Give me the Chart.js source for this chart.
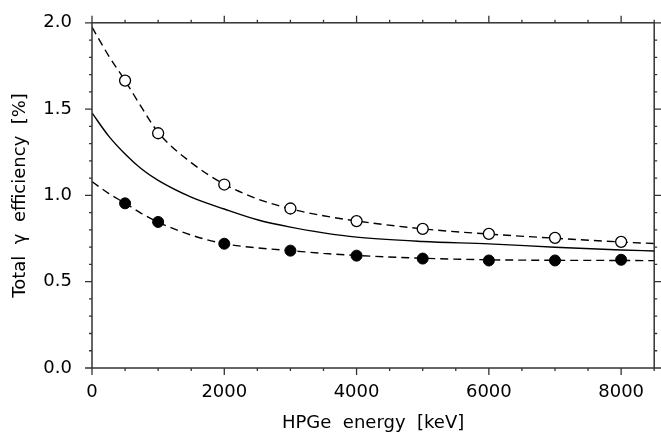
<!DOCTYPE html>
<html>
<head>
<meta charset="utf-8">
<script src="https://cdn.jsdelivr.net/npm/chart.js@4/dist/chart.umd.min.js"></script>
<style>
  html, body { margin: 0; padding: 0; background: #fff; }
  .chart-box { width: 661px; height: 438px; }
</style>
</head>
<body>
<div class="chart-box"><canvas id="chart"></canvas></div>
<script>
// measured points (keV, %)
const energies = [500, 1000, 2000, 3000, 4000, 5000, 6000, 7000, 8000];
const openVals = [1.665, 1.36, 1.063, 0.924, 0.851, 0.806, 0.777, 0.754, 0.731];
const filledVals = [0.954, 0.846, 0.72, 0.68, 0.651, 0.634, 0.623, 0.623, 0.627];

// curves
const curveX = [0, 250, 500, 750, 1000, 1500, 2000, 2500, 3000, 3500, 4000, 5000, 6000, 7000, 8000, 8500];
const upperCurve = [1.975, 1.81, 1.665, 1.51, 1.365, 1.19, 1.065, 0.98, 0.922, 0.882, 0.852, 0.806, 0.776, 0.752, 0.73, 0.721];
const solidCurve = [1.478, 1.345, 1.24, 1.153, 1.087, 0.99, 0.921, 0.859, 0.816, 0.783, 0.758, 0.733, 0.719, 0.70, 0.684, 0.678];
const lowerCurve = [1.08, 1.012, 0.955, 0.895, 0.845, 0.77, 0.72, 0.696, 0.68, 0.664, 0.652, 0.636, 0.627, 0.624, 0.623, 0.622];

const xTicks = [0, 2000, 4000, 6000, 8000];
const yTicks = [0.0, 0.5, 1.0, 1.5, 2.0];

const pts = (xs, ys) => xs.map((x, i) => ({ x, y: ys[i] }));
const FONT = "'DejaVu Sans', sans-serif";

// frame + major/minor tick marks, like the original plot
const framePlugin = {
  id: "frame",
  afterDraw(chart) {
    const { ctx, chartArea: a, scales } = chart;
    const xs = scales.x, ys = scales.y;
    ctx.save();
    ctx.strokeStyle = "#333";
    ctx.lineWidth = 1.5;
    ctx.strokeRect(a.left, a.top, a.right - a.left, a.bottom - a.top);
    ctx.lineWidth = 1.3;
    ctx.beginPath();
    for (let v = 0; v <= 8500; v += 500) {
      const px = xs.getPixelForValue(v);
      const len = v % 2000 === 0 ? 7 : 3;
      ctx.moveTo(px, a.bottom); ctx.lineTo(px, a.bottom + len);
      ctx.moveTo(px, a.top); ctx.lineTo(px, a.top - len);
    }
    for (let i = 0; i <= 20; i++) {
      const py = ys.getPixelForValue(i / 10);
      const len = i % 5 === 0 ? 7 : 3;
      ctx.moveTo(a.left, py); ctx.lineTo(a.left - len, py);
      ctx.moveTo(a.right, py); ctx.lineTo(a.right + len, py);
    }
    ctx.stroke();
    ctx.restore();
  }
};

const ctx = document.getElementById("chart").getContext("2d");
new Chart(ctx, {
  type: "scatter",
  data: {
    datasets: [
      {
        label: "open", data: pts(energies, openVals), order: 0,
        pointRadius: 5.5, pointBorderWidth: 1.3, pointBorderColor: "#000", pointBackgroundColor: "#fff"
      },
      {
        label: "filled", data: pts(energies, filledVals), order: 0,
        pointRadius: 5.5, pointBorderWidth: 1, pointBorderColor: "#000", pointBackgroundColor: "#000"
      },
      {
        label: "upper", data: pts(curveX, upperCurve), order: 1, showLine: true, pointRadius: 0,
        borderColor: "#000", borderWidth: 1.4, borderDash: [8, 5], cubicInterpolationMode: "monotone"
      },
      {
        label: "total", data: pts(curveX, solidCurve), order: 1, showLine: true, pointRadius: 0,
        borderColor: "#000", borderWidth: 1.4, cubicInterpolationMode: "monotone"
      },
      {
        label: "lower", data: pts(curveX, lowerCurve), order: 1, showLine: true, pointRadius: 0,
        borderColor: "#000", borderWidth: 1.4, borderDash: [8, 5], cubicInterpolationMode: "monotone"
      }
    ]
  },
  options: {
    responsive: true,
    maintainAspectRatio: false,
    animation: false,
    layout: { padding: { top: 18, right: 2, left: 10, bottom: 0 } },
    plugins: { legend: { display: false }, tooltip: { enabled: false } },
    scales: {
      x: {
        type: "linear", min: 0, max: 8500,
        grid: { display: false }, border: { display: false },
        afterBuildTicks: s => { s.ticks = xTicks.map(v => ({ value: v })); },
        afterFit: s => { s.height = 70; },
        ticks: { color: "#000", padding: 6, maxRotation: 0, font: { family: FONT, size: 18 }, callback: v => String(v) },
        title: { display: true, text: "HPGe  energy  [keV]", color: "#000", padding: { top: 0, bottom: 4 }, font: { family: FONT, size: 18 } }
      },
      y: {
        min: 0, max: 2,
        grid: { display: false }, border: { display: false },
        afterBuildTicks: s => { s.ticks = yTicks.map(v => ({ value: v })); },
        afterFit: s => { s.width = 82; },
        ticks: { color: "#000", padding: 12, font: { family: FONT, size: 18 }, callback: v => v.toFixed(1) },
        title: { display: true, text: "Total  γ  efficiency  [%]", color: "#000", padding: { top: 0, bottom: 4 }, font: { family: FONT, size: 18 } }
      }
    }
  },
  plugins: [framePlugin]
});
</script>
</body>
</html>
